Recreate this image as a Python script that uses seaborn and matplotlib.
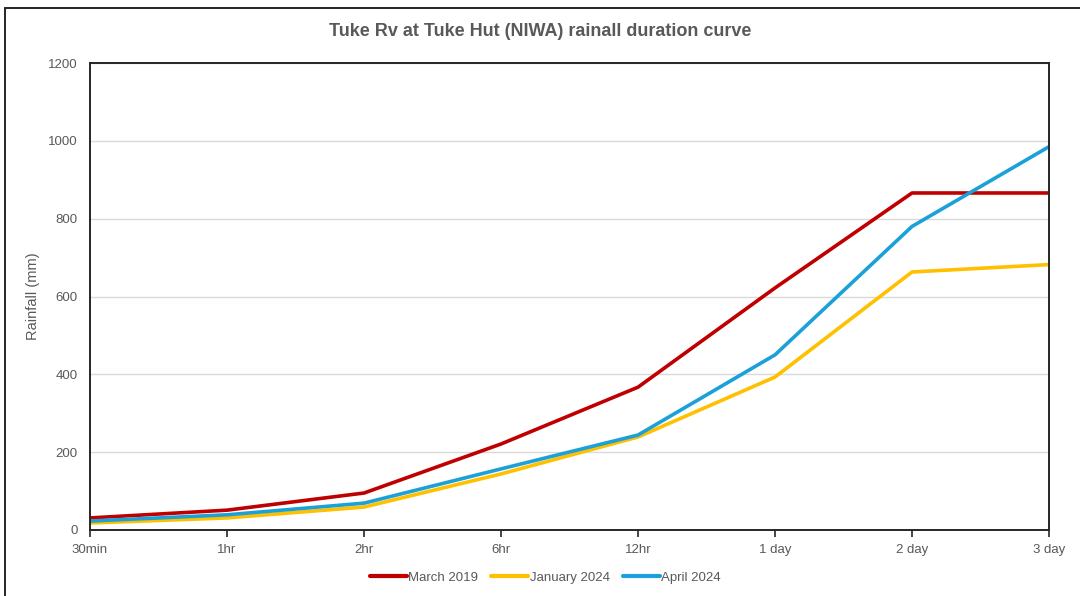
import matplotlib
matplotlib.use("Agg")
import matplotlib.pyplot as plt
import seaborn as sns
import pandas as pd
from matplotlib.lines import Line2D

durations = ["30min", "1hr", "2hr", "6hr", "12hr", "1 day", "2 day", "3 day"]
march_2019 = [31, 51, 95, 221, 367, 622, 866, 866]
january_2024 = [18, 31, 59, 144, 239, 393, 663, 682]
april_2024 = [23, 39, 69, 157, 244, 450, 780, 985]
series_names = ["March 2019", "January 2024", "April 2024"]
colors = ["#C00000", "#FFC000", "#1BA1D8"]

rows = []
for name, vals in zip(series_names, [march_2019, january_2024, april_2024]):
    for i, (d, v) in enumerate(zip(durations, vals)):
        rows.append({"pos": i, "duration": d, "rain": v, "series": name})
df = pd.DataFrame(rows)

sns.set_theme(style="white")
plt.rcParams["font.family"] = ["Liberation Sans Narrow", "Liberation Sans", "DejaVu Sans"]

fig = plt.figure(figsize=(10.8, 5.96), dpi=100)
ax = fig.add_axes([90/1080, 66/596, (1049-90)/1080, (530-63)/596])

sns.lineplot(data=df, x="pos", y="rain", hue="series", hue_order=series_names,
             palette=colors, linewidth=2.6, ax=ax, legend=False)

ax.set_xlim(0, len(durations) - 1)
ax.set_ylim(0, 1200)
ax.set_xticks(range(len(durations)))
ax.set_xticklabels(durations)
ax.set_yticks(range(0, 1201, 200))
ax.yaxis.grid(True, color="#D9D9D9", linewidth=1)
ax.xaxis.grid(False)
ax.set_axisbelow(True)
for s in ax.spines.values():
    s.set_color("#262626")
    s.set_linewidth(1.4)
ax.tick_params(axis="x", bottom=True, length=5, width=1.2, color="#262626",
               labelsize=9.5, labelcolor="#595959", pad=5)
ax.tick_params(axis="y", left=False, length=0, labelsize=9.5, labelcolor="#595959", pad=9)
ax.set_xlabel("")
ax.set_ylabel("Rainfall (mm)", fontsize=10.5, color="#595959", labelpad=6)

fig.suptitle("Tuke Rv at Tuke Hut (NIWA) rainall duration curve", x=0.5, y=0.962,
             fontsize=13, fontweight="semibold", color="#595959")

handles = [Line2D([0], [0], color=c, linewidth=3) for c in colors]
fig.legend(handles, series_names, loc="center", bbox_to_anchor=(0.505, 0.031),
           ncol=3, frameon=False, fontsize=9.5, labelcolor="#595959",
           handlelength=2.8, handletextpad=0.1, columnspacing=1.0)

# outer chart border (left and top visible)
fig.add_artist(Line2D([5/1080, 5/1080], [0, 1 - 8/596], transform=fig.transFigure,
                      color="#262626", linewidth=1.4))
fig.add_artist(Line2D([5/1080, 1.0], [1 - 8/596, 1 - 8/596], transform=fig.transFigure,
                      color="#262626", linewidth=1.4))

fig.savefig("out.png", dpi=100)
